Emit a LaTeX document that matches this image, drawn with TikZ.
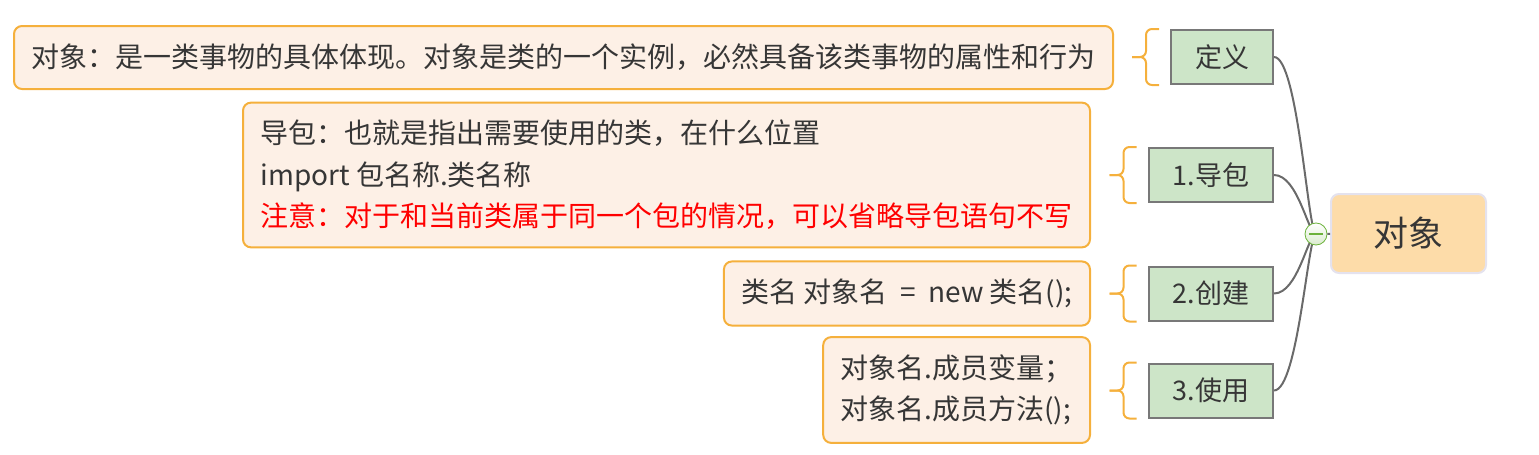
\documentclass[tikz,border=0pt]{standalone}
\usepackage{fontspec}
\setmainfont{Noto Sans CJK SC}
\usepackage{tikz}
\usetikzlibrary{calc,positioning,shapes}
\definecolor{leaffill}{HTML}{FDF0E6}
\definecolor{leafdraw}{HTML}{F5B03C}
\definecolor{topicfill}{HTML}{CDE5C8}
\definecolor{topicdraw}{HTML}{787878}
\definecolor{rootfill}{HTML}{FDDCA9}
\definecolor{rootdraw}{HTML}{E4E2EE}
\definecolor{textgray}{HTML}{363636}
\definecolor{linegray}{HTML}{6A6A6A}
\definecolor{knobgreen}{HTML}{6BB23A}
\tikzstyle{leaf}=[
  align=left,
  anchor=east,
  draw=leafdraw,
  fill=leaffill,
  font={\fontsize{14pt}{20.75pt}\selectfont},
  inner xsep=8.75pt,
  inner ysep=8.75pt,
  line width=1pt,
  minimum height=31.5pt,
  rounded corners=4pt,
  text=textgray,
]
\tikzstyle{topic}=[
  anchor=east,
  draw=topicdraw,
  fill=topicfill,
  font={\fontsize{13.5pt}{16pt}\selectfont},
  inner xsep=12pt,
  line width=1pt,
  minimum height=27pt,
  text=textgray,
]
\tikzstyle{root}=[
  draw=rootdraw,
  fill=rootfill,
  font={\fontsize{17.5pt}{20pt}\selectfont},
  line width=1pt,
  minimum height=39.5pt,
  minimum width=77.5pt,
  rounded corners=4pt,
  text=textgray,
]
\tikzstyle{branch}=[
  draw=linegray,
  line width=1pt,
]
\tikzstyle{bracket}=[
  draw=leafdraw,
  line width=1pt,
  rounded corners=3pt,
]
\tikzstyle{knob}=[
  circle,
  draw=knobgreen,
  inner sep=0pt,
  minimum size=11pt,
  top color=white,
  bottom color=knobgreen!25,
]
\tikzset{
  x=0.5pt,
  y=-0.5pt,
}
\newcommand{\bracketof}[1]{%
  \draw [bracket] ($(#1.north west)+(-11,0)$) -- ($(#1.north west)+(-24,0)$)
                  -- ($(#1.west)+(-24,0)$) -- ($(#1.west)+(-38,0)$);
  \draw [bracket] ($(#1.south west)+(-11,0)$) -- ($(#1.south west)+(-24,0)$)
                  -- ($(#1.west)+(-24,0)$) -- ($(#1.west)+(-38,0)$);
}

\begin{document}
\begin{tikzpicture}
    \useasboundingbox (0,0) rectangle (1539,455);
    \node (object) [root] at (1408.5,233.5) {对象};
    \coordinate (hub) at (1316,234);
    %%
    \node (define) [topic] at (1274,57) {定义};
    \node (import) [topic] at (1274,175) {1.导包};
    \node (create) [topic] at (1274,293.5) {2.创建};
    \node (use) [topic] at (1274,390.5) {3.使用};
    %%
    \node (definetext) [leaf] at (1114,57.5)
      {对象：是一类事物的具体体现。对象是类的一个实例，必然具备该类事物的属性和行为};
    \node (importtext) [leaf] at (1091,175)
      {导包：也就是指出需要使用的类，在什么位置\\
       import 包名称.类名称\\
       \textcolor{red}{注意：对于和当前类属于同一个包的情况，可以省略导包语句不写}};
    \node (createtext) [leaf] at (1091,293.5) {类名 对象名\ \ =\ \ new 类名();};
    \node (usetext) [leaf] at (1091,390) {对象名.成员变量；\\对象名.成员方法();};
    %%
    \bracketof{define}
    \bracketof{import}
    \bracketof{create}
    \bracketof{use}
    %%
    \draw [branch] (define.east) .. controls +(24,0) and +(-8,0) .. (hub);
    \draw [branch] (import.east) .. controls +(24,0) and +(-8,0) .. (hub);
    \draw [branch] (create.east) .. controls +(24,0) and +(-8,0) .. (hub);
    \draw [branch] (use.east) .. controls +(24,0) and +(-8,0) .. (hub);
    \node (knob) [knob] at (hub) {};
    \draw [knobgreen, line width=1pt] ($(knob.center)+(-7,0)$) -- ($(knob.center)+(7,0)$);
    \draw [branch] (knob) -- (object);
\end{tikzpicture}
\end{document}
